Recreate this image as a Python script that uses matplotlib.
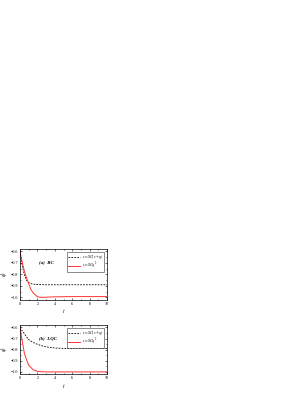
import numpy as np
import matplotlib.pyplot as plt
from matplotlib.ticker import MultipleLocator

plt.rcParams['font.family'] = ['Liberation Serif', 'DejaVu Serif']
plt.rcParams['mathtext.fontset'] = 'stix'

# panel (a) RC
t_a = [0, 0.25, 0.5, 0.75, 1.0, 1.25, 1.5, 2.0, 2.5, 3, 4, 6, 8, 10]
dash_a = [-0.60, -0.72, -0.80, -0.85, -0.87, -0.88, -0.885, -0.888, -0.889, -0.89, -0.89, -0.89, -0.89, -0.89]
red_a = [-0.60, -0.69, -0.77, -0.83, -0.88, -0.93, -0.96, -0.995, -1.0, -0.998, -0.995, -0.993, -0.993, -0.993]

# panel (b) LQC
t_b = [0, 0.25, 0.5, 0.75, 1.0, 1.5, 2.0, 2.5, 3, 4, 5, 6, 8, 10]
dash_b = [-0.60, -0.63, -0.655, -0.685, -0.71, -0.735, -0.752, -0.765, -0.775, -0.785, -0.789, -0.79, -0.79, -0.79]
red_b = [-0.60, -0.72, -0.83, -0.89, -0.94, -0.98, -0.995, -0.999, -1.0, -1.0, -1.0, -1.0, -1.0, -1.0]

labels = ["$s=SC(s+q)$", "$s=SCq^2$"]
panels = [("(a)  RC", t_a, dash_a, red_a, [0.065, 0.247, 0.284, 0.127]),
          ("(b)  LQC", t_b, dash_b, red_b, [0.065, 0.060, 0.284, 0.123])]

fig = plt.figure(figsize=(3.07, 3.98), dpi=100)
for name, t, d, r, pos in panels:
    ax = fig.add_axes(pos)
    ax.plot(t, d, 'k--', lw=0.6, dashes=(2, 1.5), label=labels[0])
    ax.plot(t, r, color='#ff3333', lw=0.7, label=labels[1])
    ax.set_xlim(0, 10)
    ax.set_ylim(-1.02, -0.58)
    ax.xaxis.set_major_locator(MultipleLocator(2))
    ax.xaxis.set_minor_locator(MultipleLocator(1))
    ax.yaxis.set_major_locator(MultipleLocator(0.1))
    ax.yaxis.set_minor_locator(MultipleLocator(0.05))
    ax.tick_params(which='both', direction='in', top=True, right=True,
                   labelsize=3, width=0.4, pad=1.5)
    ax.tick_params(which='major', length=1.5)
    ax.tick_params(which='minor', length=0.8)
    for s in ax.spines.values():
        s.set_linewidth(0.5)
    ax.set_xlabel("$t$", fontsize=4, labelpad=1)
    ax.set_ylabel(r"$\phi$", fontsize=4, labelpad=1)
    ax.text(0.22, 0.72, name, transform=ax.transAxes, fontsize=3.5,
            style='italic', fontweight='bold')
    leg = ax.legend(loc='upper right', fontsize=2.8, frameon=True, fancybox=False,
                    edgecolor='black', handlelength=3.2, handleheight=0.3,
                    borderpad=0.15, labelspacing=0.0, handletextpad=0.5,
                    borderaxespad=0.8)
    leg.get_frame().set_linewidth(0.4)

fig.savefig("out.png", dpi=100)
